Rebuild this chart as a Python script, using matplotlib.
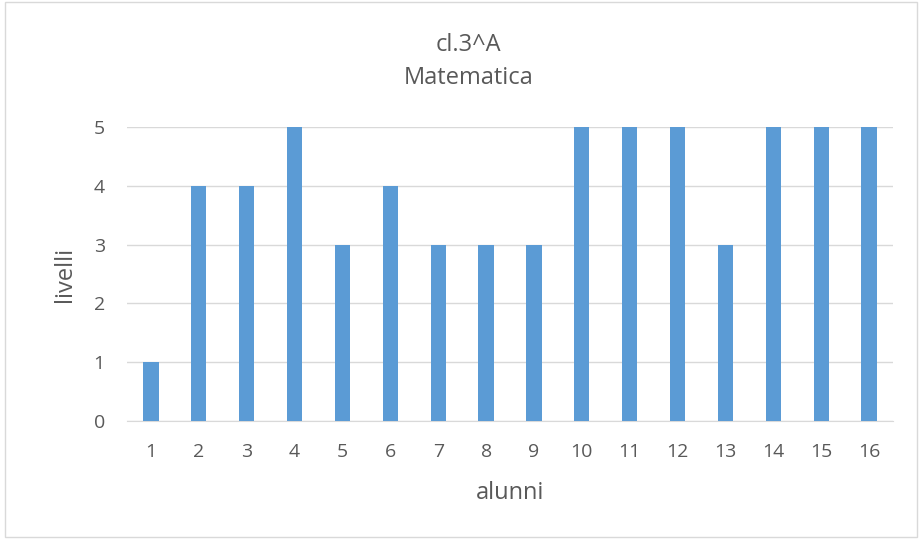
import matplotlib
matplotlib.use("Agg")
import matplotlib.pyplot as plt
from matplotlib.patches import Rectangle

alunni = [str(i) for i in range(1, 17)]
livelli = [1, 4, 4, 5, 3, 4, 3, 3, 3, 5, 5, 5, 3, 5, 5, 5]

plt.rcParams["font.family"] = ["Open Sans", "DejaVu Sans"]
txt = "#595959"

fig = plt.figure(figsize=(9.21, 5.4), dpi=100)
ax = fig.add_axes([0.1379, 0.2204, 0.8317, 0.5444])

x = range(1, len(alunni) + 1)
ax.bar(x, livelli, width=0.32, color="#5B9BD5", zorder=3)

ax.set_xlim(0.5, len(alunni) + 0.5)
ax.set_ylim(0, 5)
ax.set_xticks(list(x))
ax.set_xticklabels(alunni)
ax.set_yticks(range(0, 6))
ax.grid(axis="y", color="#D9D9D9", linewidth=1, zorder=0)
for s in ["top", "right", "left"]:
    ax.spines[s].set_visible(False)
ax.spines["bottom"].set_color("#D9D9D9")
ax.tick_params(axis="both", length=0, colors=txt, labelsize=14)
ax.tick_params(axis="x", pad=16)
ax.tick_params(axis="y", pad=16)

ax.set_xlabel("alunni", fontsize=17, color=txt, va="center")
ax.xaxis.set_label_coords(0.5, -0.245)
ax.set_ylabel("livelli", fontsize=17, color=txt, va="center")
ax.yaxis.set_label_coords(-0.081, 0.5)
fig.text(0.509, 0.9167, "cl.3^A", ha="center", va="center", fontsize=17, color=txt)
fig.text(0.509, 0.8556, "Matematica", ha="center", va="center", fontsize=17, color=txt)

fig.patches.append(Rectangle((0.005, 0.006), 0.991, 0.99, transform=fig.transFigure,
                             fill=False, edgecolor="#D9D9D9", linewidth=1))

fig.savefig("out.png", dpi=100)
